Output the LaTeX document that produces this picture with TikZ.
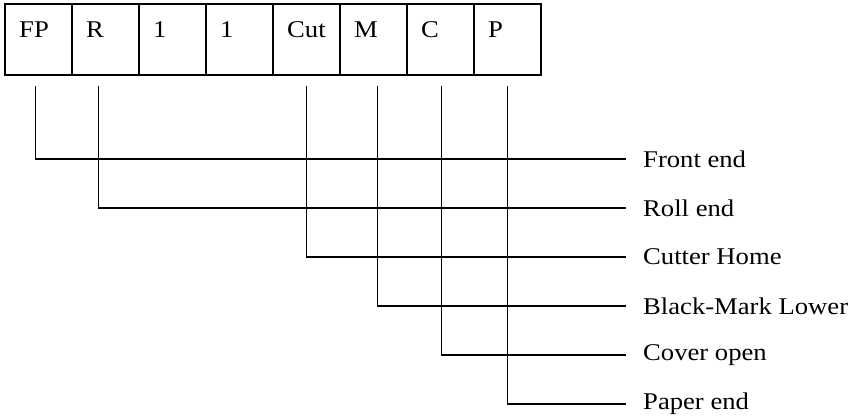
\documentclass[tikz,border=0pt]{standalone}
\usepackage{fontspec}
\setmainfont{Liberation Serif}[FakeStretch=1.11]
\newcommand\sigfont{\fontsize{24}{28}\selectfont}
\newcommand\bitfont{\fontsize{24}{28}\selectfont}
\begin{document}
\begin{tikzpicture}[x=1pt,y=-1pt,
  cell/.style={draw,line width=1.9pt,minimum width=67pt,minimum height=71pt,
    anchor=north west,inner sep=0pt,outer sep=0pt},
  celltext/.style={anchor=base west,inner sep=0pt,xshift=14pt,yshift=-33pt,
    font=\bitfont},
  wire/.style={line width=1.8pt},
  lbl/.style={anchor=west,inner sep=0pt,font=\sigfont}]
\useasboundingbox (0,0) rectangle (853,418);

% register bits
\foreach \name/\txt [count=\i from 0] in {c1/FP,c2/R,c3/1,c4/1,c5/Cut,c6/M,c7/C,c8/P}
  \node[cell,label={[celltext]north west:\txt}] (\name) at (5+67*\i,4) {};

% signal names
\node[lbl] (fe) at (643,159) {Front end};
\node[lbl] (re) at (643,208) {Roll end};
\node[lbl] (ch) at (643,257) {Cutter Home};
\node[lbl] (bm) at (643,306) {Black-Mark Lower};
\node[lbl] (co) at (643,355) {Cover open};
\node[lbl] (pe) at (643,404) {Paper end};

% bit-to-signal leaders
\draw[wire] ([xshift=-3pt,yshift=-11pt]c1.south) |- ([xshift=-17pt]fe.west);
\draw[wire] ([xshift=-7pt,yshift=-11pt]c2.south) |- ([xshift=-17pt]re.west);
\draw[wire] ([xshift=0pt,yshift=-11pt]c5.south) |- ([xshift=-17pt]ch.west);
\draw[wire] ([xshift=4pt,yshift=-11pt]c6.south) |- ([xshift=-17pt]bm.west);
\draw[wire] ([xshift=1pt,yshift=-11pt]c7.south) |- ([xshift=-17pt]co.west);
\draw[wire] ([xshift=0pt,yshift=-11pt]c8.south) |- ([xshift=-17pt]pe.west);
\end{tikzpicture}
\end{document}
